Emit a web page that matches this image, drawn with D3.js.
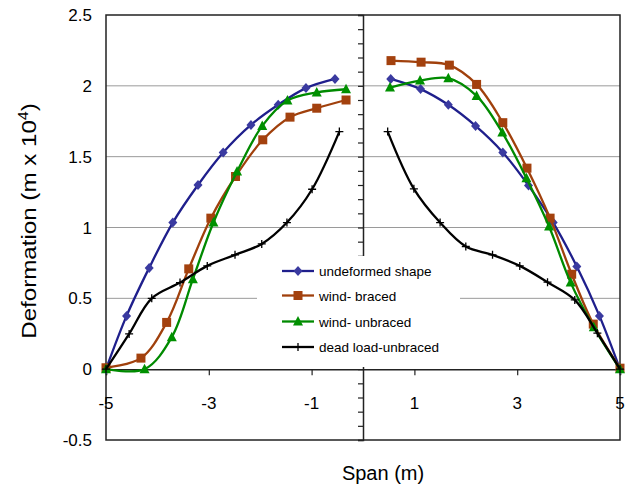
<!DOCTYPE html>
<html><head><meta charset="utf-8">
<script src="https://cdn.jsdelivr.net/npm/d3@7"></script>
<style>
body{margin:0;background:#fff;}
svg{display:block;font-family:"Liberation Sans",Arial,sans-serif;}
</style></head>
<body><svg id="c" width="632" height="490"></svg>
<script>
// ---- data ----
const seriesNames = ["undeformed shape","wind- braced","wind- unbraced","dead load-unbraced"];
const seriesColors = ["#1f1f8c","#a0400c","#008a00","#000000"];
const markerColors = ["#3a3aa0","#a3410e","#009000","#000000"];
const markerTypes = ["diamond","square","triangle","plus"];

const undeformedLeftX  = [-5,-4.6,-4.16,-3.70,-3.21,-2.72,-2.18,-1.65,-1.11,-0.545];
const undeformedLeftY  = [0,0.376,0.715,1.035,1.30,1.529,1.724,1.866,1.984,2.049];
const undeformedRightX = [0.54,1.12,1.66,2.19,2.72,3.22,3.70,4.16,4.60,5];
const undeformedRightY = [2.049,1.977,1.866,1.717,1.53,1.296,1.035,0.724,0.376,0];

const bracedLeftX  = [-5,-4.32,-3.82,-3.39,-2.96,-2.48,-1.95,-1.42,-0.9,-0.33];
const bracedLeftY  = [0.01,0.078,0.33,0.708,1.066,1.36,1.619,1.779,1.842,1.90];
const bracedRightX = [0.545,1.13,1.68,2.21,2.72,3.19,3.64,4.06,4.48,5];
const bracedRightY = [2.178,2.167,2.146,2.01,1.74,1.419,1.066,0.67,0.318,0.007];

const unbracedLeftX  = [-5,-4.25,-3.72,-3.31,-2.91,-2.45,-1.96,-1.47,-0.9,-0.33];
const unbracedLeftY  = [0,0,0.226,0.635,1.035,1.395,1.717,1.896,1.953,1.976];
const unbracedRightX = [0.525,1.11,1.66,2.21,2.71,3.18,3.62,4.04,4.49,5];
const unbracedRightY = [1.988,2.037,2.054,1.929,1.67,1.348,1.007,0.611,0.296,0];

const deadLeftX  = [-5,-4.55,-4.11,-3.56,-3.03,-2.49,-1.97,-1.48,-0.99,-0.46];
const deadLeftY  = [0,0.249,0.50,0.611,0.729,0.807,0.884,1.035,1.27,1.677];
const deadRightX = [0.48,0.99,1.50,2.0,2.52,3.05,3.59,4.12,4.56,5];
const deadRightY = [1.677,1.273,1.035,0.866,0.807,0.729,0.614,0.489,0.254,0];

const yTicks = [-0.5,0,0.5,1,1.5,2,2.5];
const xTicks = [-5,-3,-1,1,3,5];
const gridValues = [0.5,1,1.5,2];

const seriesData = [
  [[undeformedLeftX,undeformedLeftY],[undeformedRightX,undeformedRightY]],
  [[bracedLeftX,bracedLeftY],[bracedRightX,bracedRightY]],
  [[unbracedLeftX,unbracedLeftY],[unbracedRightX,unbracedRightY]],
  [[deadLeftX,deadLeftY],[deadRightX,deadRightY]]
];

// ---- layout ----
const svg = d3.select("#c");
const L=106,R=620,T=15,B=440;
const x = d3.scaleLinear().domain([-5,5]).range([L,R]);
const y = d3.scaleLinear().domain([-0.5,2.5]).range([B,T]);

// gridlines
svg.append("g").selectAll("line").data(gridValues).join("line")
  .attr("x1",L).attr("x2",R).attr("y1",d=>y(d)).attr("y2",d=>y(d))
  .attr("stroke","#9a9a9a").attr("stroke-width",1);

// frame
svg.append("rect").attr("x",L).attr("y",T).attr("width",R-L).attr("height",B-T)
  .attr("fill","none").attr("stroke","#222").attr("stroke-width",1.5);

// y axis at x=0 with minor ticks on left
const minorY = d3.range(-5,26).map(i=>i/10);
const yAxis = d3.axisLeft(y).tickValues(minorY).tickSize(5).tickFormat("");
const gy = svg.append("g").attr("transform",`translate(${x(0)},0)`).call(yAxis);
gy.select(".domain").attr("stroke","#222").attr("stroke-width",1.5);
gy.selectAll(".tick line").attr("stroke","#222").attr("stroke-width",1.2);

// x axis at y=0
const xAxis = d3.axisBottom(x).tickValues(xTicks).tickSize(6).tickFormat("");
const gx = svg.append("g").attr("transform",`translate(0,${y(0)})`).call(xAxis);
gx.select(".domain").attr("stroke","#222").attr("stroke-width",1.5);
gx.selectAll(".tick line").attr("stroke","#222").attr("stroke-width",1.2);

// x tick labels
svg.append("g").selectAll("text").data(xTicks).join("text")
  .attr("x",d=>x(d)).attr("y",y(0)+40).attr("text-anchor","middle")
  .attr("font-size",17).attr("fill","#000").text(d=>d);

// y tick labels
svg.append("g").selectAll("text").data(yTicks).join("text")
  .attr("x",92).attr("y",d=>y(d)+6).attr("text-anchor","end")
  .attr("font-size",17).attr("fill","#000").text(d=>d);

// axis titles
svg.append("text").attr("x",383).attr("y",480).attr("text-anchor","middle")
  .attr("font-size",20).text("Span (m)");
const yt = svg.append("text").attr("transform","translate(36,221) rotate(-90) scale(1.15,1)")
  .attr("text-anchor","middle").attr("font-size",21);
yt.append("tspan").text("Deformation (m x 10");
yt.append("tspan").attr("font-size",14).attr("dy",-8).text("4");
yt.append("tspan").attr("dy",8).text(")");

// markers
function marker(g,type,cx,cy,color){
  if(type==="diamond"){
    g.append("path").attr("d",`M${cx},${cy-5}L${cx+4.5},${cy}L${cx},${cy+5}L${cx-4.5},${cy}Z`).attr("fill",color);
  } else if(type==="square"){
    g.append("rect").attr("x",cx-4.5).attr("y",cy-4.5).attr("width",9).attr("height",9).attr("fill",color);
  } else if(type==="triangle"){
    g.append("path").attr("d",`M${cx},${cy-5.5}L${cx+5},${cy+4}L${cx-5},${cy+4}Z`).attr("fill",color);
  } else {
    g.append("path").attr("d",`M${cx-4},${cy}H${cx+4}M${cx},${cy-4}V${cy+4}`).attr("stroke",color).attr("stroke-width",1.3).attr("fill","none");
  }
}

const line = d3.line().x(d=>x(d[0])).y(d=>y(d[1])).curve(d3.curveCatmullRom.alpha(0.5));
const plot = svg.append("g");
seriesData.forEach((segs,i)=>{
  const g = plot.append("g");
  segs.forEach(([xs,ys])=>{
    const pts = xs.map((v,k)=>[v,ys[k]]);
    g.append("path").attr("d",line(pts)).attr("fill","none")
      .attr("stroke",seriesColors[i]).attr("stroke-width",2.3);
  });
  segs.forEach(([xs,ys])=>{
    xs.forEach((v,k)=>marker(g,markerTypes[i],x(v),y(ys[k]),markerColors[i]));
  });
});

// legend
const lg = svg.append("g");
lg.append("rect").attr("x",257).attr("y",256).attr("width",203).attr("height",111).attr("fill","#fff");
const legY = [271,295.5,321.5,347];
seriesNames.forEach((n,i)=>{
  lg.append("line").attr("x1",282).attr("x2",314).attr("y1",legY[i]).attr("y2",legY[i])
    .attr("stroke",seriesColors[i]).attr("stroke-width",2.3);
  marker(lg,markerTypes[i],298,legY[i],markerColors[i]);
  lg.append("text").attr("x",319).attr("y",legY[i]+5).attr("font-size",13.5).text(n);
});
</script></body></html>
